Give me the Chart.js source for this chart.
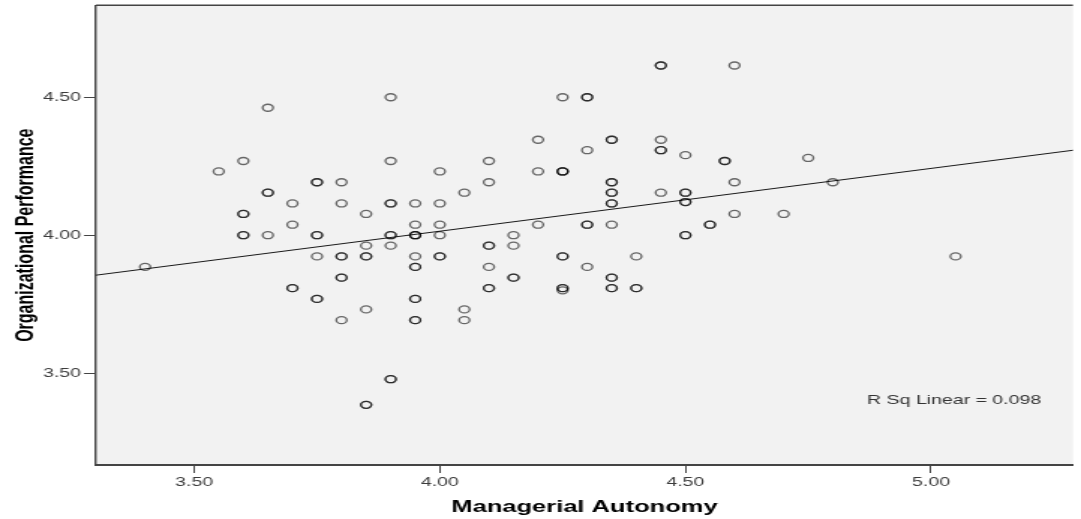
<!DOCTYPE html>
<html>
<head>
<meta charset="utf-8">
<script src="https://cdn.jsdelivr.net/npm/chart.js@4.4.0/dist/chart.umd.min.js"></script>
<style>
html, body { margin: 0; padding: 0; background: #fff; overflow: hidden; }
#wrap { width: 1081px; height: 519px; overflow: hidden; }
/* the reference is an SPSS plot stretched sideways, so draw narrow and widen */
#chart { display: block; transform: scaleX(1.4993); transform-origin: 0 0; }
</style>
</head>
<body>
<div id="wrap"><canvas id="chart" width="721" height="519"></canvas></div>
<script>
// Managerial Autonomy (x) and Organizational Performance (y), one entry per case
const autonomy = [
    3.40,
    3.55,
    3.60, 3.60, 3.60, 3.60, 3.60,
    3.65, 3.65, 3.65, 3.65,
    3.70, 3.70, 3.70, 3.70,
    3.75, 3.75, 3.75, 3.75, 3.75, 3.75, 3.75,
    3.80, 3.80, 3.80, 3.80, 3.80, 3.80, 3.80,
    3.85, 3.85, 3.85, 3.85, 3.85, 3.85, 3.85,
    3.90, 3.90, 3.90, 3.90, 3.90, 3.90, 3.90, 3.90, 3.90,
    3.95, 3.95, 3.95, 3.95, 3.95, 3.95, 3.95, 3.95, 3.95, 3.95, 3.95, 3.95,
    4.00, 4.00, 4.00, 4.00, 4.00, 4.00,
    4.05, 4.05, 4.05,
    4.10, 4.10, 4.10, 4.10, 4.10, 4.10, 4.10,
    4.15, 4.15, 4.15, 4.15,
    4.20, 4.20, 4.20,
    4.25, 4.25, 4.25, 4.25, 4.25, 4.25, 4.25, 4.25, 4.25,
    4.30, 4.30, 4.30, 4.30, 4.30, 4.30,
    4.35, 4.35, 4.35, 4.35, 4.35, 4.35, 4.35, 4.35, 4.35, 4.35, 4.35, 4.35, 4.35,
    4.40, 4.40, 4.40,
    4.45, 4.45, 4.45, 4.45, 4.45, 4.45,
    4.50, 4.50, 4.50, 4.50, 4.50, 4.50, 4.50,
    4.55, 4.55,
    4.58, 4.58,
    4.60, 4.60, 4.60,
    4.70,
    4.75,
    4.80,
    5.05
];

const performance = [
    3.885,
    4.231,
    4.269, 4.077, 4.077, 4.000, 4.000,
    4.462, 4.154, 4.154, 4.000,
    4.115, 4.038, 3.808, 3.808,
    4.192, 4.192, 4.000, 4.000, 3.923, 3.769, 3.769,
    4.192, 4.115, 3.923, 3.923, 3.846, 3.846, 3.692,
    4.077, 3.962, 3.923, 3.923, 3.731, 3.385, 3.385,
    4.500, 4.269, 4.115, 4.115, 4.000, 4.000, 3.962, 3.478, 3.478,
    4.115, 4.038, 4.000, 4.000, 4.000, 3.923, 3.885, 3.885, 3.769, 3.769, 3.692, 3.692,
    4.231, 4.115, 4.038, 4.000, 3.923, 3.923,
    4.154, 3.731, 3.692,
    4.269, 4.192, 3.962, 3.962, 3.885, 3.808, 3.808,
    4.000, 3.962, 3.846, 3.846,
    4.346, 4.231, 4.038,
    4.500, 4.231, 4.231, 4.231, 3.923, 3.923, 3.808, 3.808, 3.800,
    4.500, 4.500, 4.308, 4.038, 4.038, 3.885,
    4.346, 4.346, 4.192, 4.192, 4.154, 4.154, 4.115, 4.115, 4.038, 3.846, 3.846, 3.808, 3.808,
    3.923, 3.808, 3.808,
    4.615, 4.615, 4.346, 4.308, 4.308, 4.154,
    4.290, 4.154, 4.154, 4.120, 4.120, 4.000, 4.000,
    4.038, 4.038,
    4.269, 4.269,
    4.615, 4.192, 4.077,
    4.077,
    4.280,
    4.192,
    3.923
];

// fitted linear line, ends read at the plot edges
const fitX = [3.30, 5.29];
const fitY = [3.855, 4.308];

const xTicks = [3.50, 4.00, 4.50, 5.00];
const yTicks = [3.50, 4.00, 4.50];

const rSqText = 'R Sq Linear = 0.098';
const rSqAt = [4.87, 3.402];

const FONT = '"Liberation Sans", Arial, sans-serif';

const plotFrame = {
    id: 'plotFrame',
    beforeDraw(chart) {
        const { ctx, chartArea: a } = chart;
        ctx.save();
        ctx.fillStyle = '#f2f2f2';
        ctx.fillRect(a.left, a.top, a.right - a.left, a.bottom - a.top);
        ctx.strokeStyle = '#444';
        ctx.lineWidth = 1.5;
        ctx.beginPath();
        ctx.moveTo(a.left, a.top);
        ctx.lineTo(a.right, a.top);
        ctx.stroke();
        ctx.restore();
    },
    afterDatasetsDraw(chart) {
        const { ctx, scales } = chart;
        ctx.save();
        ctx.font = '13px ' + FONT;
        ctx.fillStyle = '#333';
        ctx.textAlign = 'left';
        ctx.textBaseline = 'middle';
        ctx.fillText(rSqText, scales.x.getPixelForValue(rSqAt[0]), scales.y.getPixelForValue(rSqAt[1]));
        ctx.restore();
    }
};

// no extra room for tick labels at the plot ends
function noEdgePadding(s) {
    s.paddingTop = 0;
    s.paddingBottom = 0;
    s.paddingLeft = 0;
    s.paddingRight = 0;
}

const tickFont = { family: FONT, size: 13 };

new Chart(document.getElementById('chart').getContext('2d'), {
    type: 'scatter',
    data: {
        datasets: [
            {
                label: 'Organizational Performance',
                data: autonomy.map((v, i) => ({ x: v, y: performance[i] })),
                pointStyle: 'circle',
                pointRadius: 3.5,
                borderWidth: 1.35,
                borderColor: 'rgba(0,0,0,0.58)',
                backgroundColor: 'rgba(0,0,0,0)'
            },
            {
                type: 'line',
                label: 'Linear fit',
                data: fitX.map((v, i) => ({ x: v, y: fitY[i] })),
                borderColor: '#1a1a1a',
                borderWidth: 1,
                pointRadius: 0,
                fill: false
            }
        ]
    },
    options: {
        responsive: false,
        animation: false,
        events: [],
        layout: { padding: { top: 5, right: 0, bottom: 0, left: 0 } },
        plugins: {
            legend: { display: false },
            tooltip: { enabled: false }
        },
        scales: {
            x: {
                type: 'linear',
                min: 3.30,
                max: 5.289,
                afterBuildTicks: s => { s.ticks = xTicks.map(v => ({ value: v })); },
                afterFit: s => { s.height = 54; noEdgePadding(s); },
                ticks: {
                    callback: v => v.toFixed(2),
                    color: '#3c3c3c',
                    font: tickFont,
                    padding: 2,
                    maxRotation: 0,
                    autoSkip: false
                },
                grid: { drawOnChartArea: false, drawTicks: true, tickLength: 8, color: '#444', lineWidth: 1 },
                border: { display: true, color: '#444', width: 2 },
                title: {
                    display: true,
                    text: 'Managerial Autonomy',
                    color: '#000',
                    font: { family: FONT, size: 17, weight: 'bold' },
                    padding: { top: 0, bottom: 1 }
                }
            },
            y: {
                min: 3.167,
                max: 4.833,
                afterBuildTicks: s => { s.ticks = yTicks.map(v => ({ value: v })); },
                afterFit: s => { s.width = 64; noEdgePadding(s); },
                ticks: {
                    callback: v => v.toFixed(2),
                    color: '#3c3c3c',
                    font: tickFont,
                    padding: 2,
                    autoSkip: false
                },
                grid: { drawOnChartArea: false, drawTicks: true, tickLength: 8, color: '#444', lineWidth: 1 },
                border: { display: true, color: '#444', width: 1.4 },
                title: {
                    display: true,
                    text: 'Organizational Performance',
                    color: '#000',
                    font: { family: FONT, size: 16, weight: 'bold' },
                    padding: { top: 8, bottom: 0 }
                }
            }
        }
    },
    plugins: [plotFrame]
});
</script>
</body>
</html>
